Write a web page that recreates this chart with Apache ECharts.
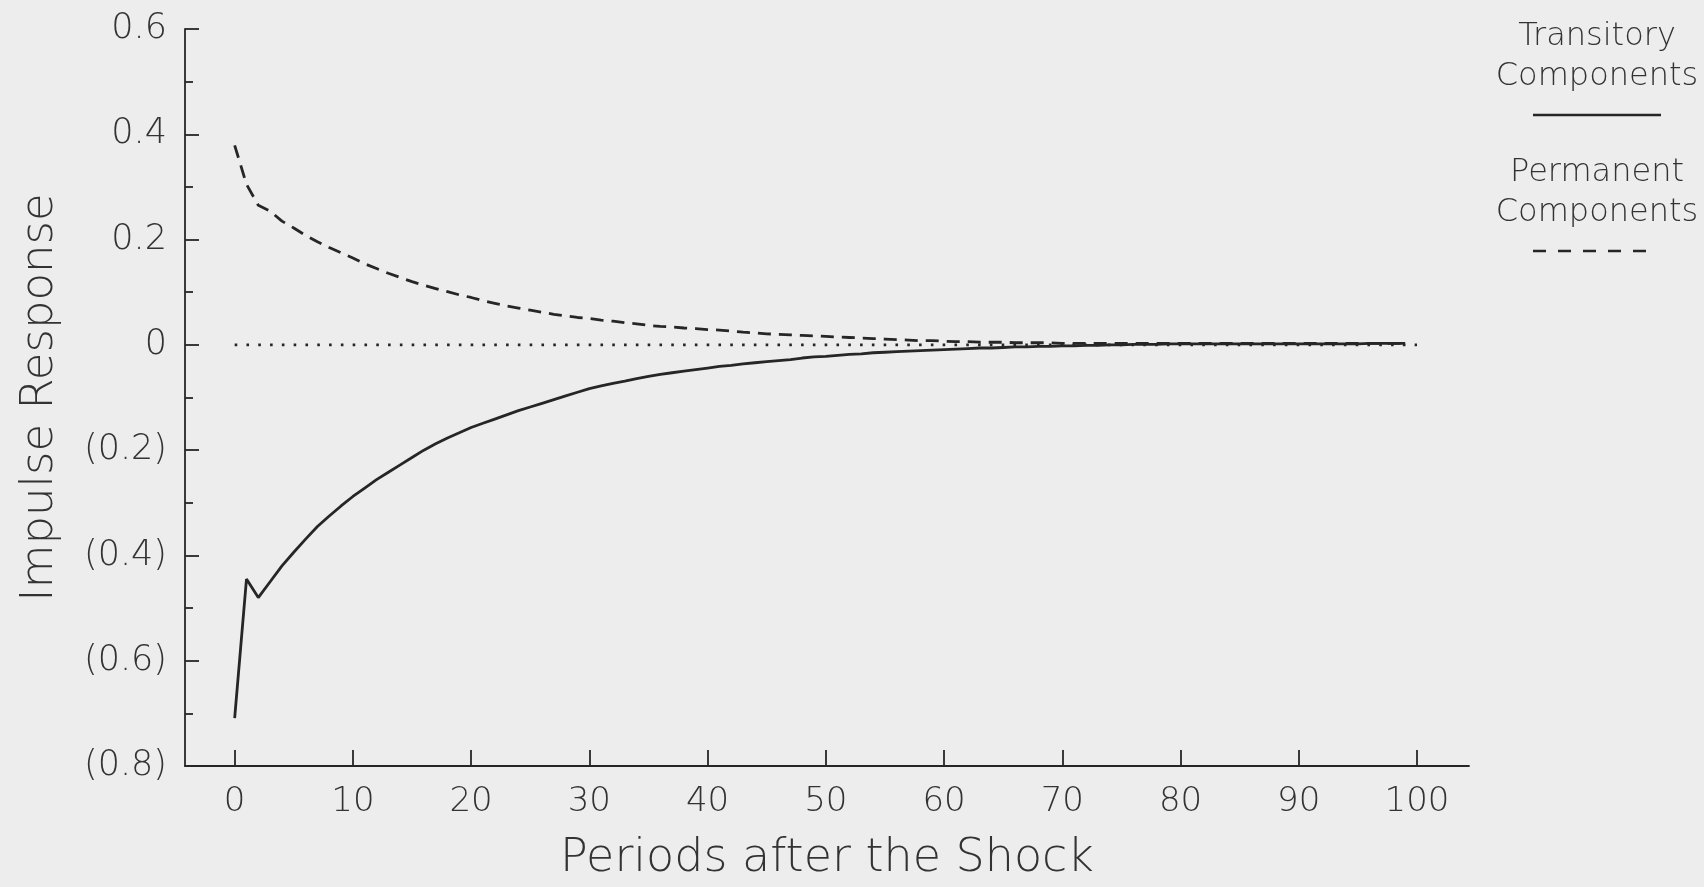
<!DOCTYPE html>
<html>
<head>
<meta charset="utf-8">
<title>Impulse Response</title>
<script src="https://cdn.jsdelivr.net/npm/echarts@6/dist/echarts.min.js"></script>
<style>
  html, body { margin: 0; padding: 0; background: #ededed; }
  #chart { width: 1704px; height: 887px; }
</style>
</head>
<body>
<div id="chart"></div>
<script>
// Periods after the shock (0 .. 99)
const periods = Array.from({ length: 100 }, (_, i) => i);

// Response of the transitory components (solid line)
const transitory = [
  -0.709, -0.445, -0.480, -0.450, -0.420, -0.394, -0.369, -0.345, -0.325, -0.306,
  -0.288, -0.272, -0.256, -0.242, -0.228, -0.214, -0.200, -0.188, -0.177, -0.167,
  -0.157, -0.149, -0.141, -0.133, -0.125, -0.118, -0.111, -0.104, -0.097, -0.090,
  -0.083, -0.078, -0.073, -0.069, -0.064, -0.060, -0.056, -0.053, -0.050, -0.047,
  -0.044, -0.041, -0.039, -0.036, -0.034, -0.032, -0.030, -0.028, -0.025, -0.023,
  -0.022, -0.020, -0.018, -0.017, -0.015, -0.014, -0.013, -0.012, -0.011, -0.010,
  -0.009, -0.008, -0.007, -0.006, -0.006, -0.005, -0.004, -0.004, -0.003, -0.003,
  -0.002, -0.002, -0.001, -0.001, 0.000, 0.000, 0.001, 0.001, 0.001, 0.002,
  0.002, 0.002, 0.002, 0.002, 0.002, 0.002, 0.002, 0.002, 0.002, 0.002,
  0.002, 0.002, 0.002, 0.002, 0.002, 0.002, 0.003, 0.003, 0.003, 0.003
];

// Response of the permanent components (dashed line)
const permanent = [
  0.379, 0.305, 0.265, 0.254, 0.235, 0.222, 0.208, 0.196, 0.185, 0.175,
  0.165, 0.154, 0.145, 0.136, 0.128, 0.120, 0.113, 0.107, 0.101, 0.095,
  0.090, 0.084, 0.079, 0.074, 0.070, 0.066, 0.062, 0.058, 0.055, 0.052,
  0.050, 0.047, 0.045, 0.042, 0.040, 0.037, 0.035, 0.034, 0.032, 0.031,
  0.029, 0.028, 0.026, 0.024, 0.023, 0.021, 0.020, 0.019, 0.018, 0.017,
  0.016, 0.015, 0.014, 0.013, 0.012, 0.011, 0.010, 0.009, 0.008, 0.008,
  0.007, 0.006, 0.006, 0.005, 0.005, 0.005, 0.004, 0.004, 0.004, 0.004,
  0.003, 0.003, 0.003, 0.003, 0.003, 0.003, 0.003, 0.003, 0.003, 0.003,
  0.003, 0.003, 0.003, 0.003, 0.003, 0.003, 0.003, 0.003, 0.003, 0.003,
  0.003, 0.003, 0.003, 0.003, 0.003, 0.003, 0.003, 0.003, 0.003, 0.003
];

// Zero reference line endpoints
const zeroLine = [[0, 0], [100, 0]];

// Tick values
const xTicks = [0, 10, 20, 30, 40, 50, 60, 70, 80, 90, 100];
const yTicks = [0.6, 0.4, 0.2, 0, -0.2, -0.4, -0.6, -0.8];

const legendTransitory = 'Transitory\nComponents';
const legendPermanent = 'Permanent\nComponents';

const FONT = "'DejaVu Sans', sans-serif";
const INK = '#262626';
const TEXT = '#333333';

// Negative values are written in accounting style, e.g. (0.2)
function fmtY(v) {
  const r = Math.round(v * 10) / 10;
  if (Math.abs(r) < 1e-9) return '0';
  return r < 0 ? '(' + Math.abs(r).toFixed(1) + ')' : r.toFixed(1);
}

const chart = echarts.init(document.getElementById('chart'), null, { renderer: 'canvas' });

chart.setOption({
  backgroundColor: '#ededed',
  animation: false,
  grid: { left: 185, right: 235, top: 29, bottom: 119, containLabel: false },
  xAxis: {
    type: 'value',
    min: -4.2,
    max: 104.4,
    name: 'Periods after the Shock',
    nameLocation: 'middle',
    nameGap: 70,
    nameTextStyle: { fontFamily: FONT, fontSize: 46, fontWeight: 200, color: TEXT },
    axisLine: { show: true, onZero: false, lineStyle: { color: INK, width: 1.8 } },
    axisTick: { show: true, inside: true, length: 16, customValues: xTicks, lineStyle: { color: INK, width: 1.8 } },
    axisLabel: { customValues: xTicks, margin: 19, fontFamily: FONT, fontSize: 34, fontWeight: 200, color: TEXT },
    splitLine: { show: false }
  },
  yAxis: {
    type: 'value',
    min: -0.8,
    max: 0.6,
    interval: 0.2,
    name: 'Impulse Response',
    nameLocation: 'middle',
    nameRotate: 90,
    nameGap: 122,
    nameTextStyle: { fontFamily: FONT, fontSize: 45, fontWeight: 200, color: TEXT },
    axisLine: { show: true, onZero: false, lineStyle: { color: INK, width: 1.8 } },
    axisTick: { show: true, inside: true, length: 14, lineStyle: { color: INK, width: 1.8 } },
    minorTick: { show: true, splitNumber: 2, length: 8, lineStyle: { color: INK, width: 1.8 } },
    axisLabel: {
      margin: 18, fontFamily: FONT, fontSize: 35, fontWeight: 200, color: TEXT,
      formatter: fmtY
    },
    splitLine: { show: false }
  },
  series: [
    {
      name: 'Zero',
      type: 'line',
      data: zeroLine,
      symbol: 'none',
      silent: true,
      lineStyle: { color: INK, width: 2.6, type: [2.6, 9.2] },
      z: 1
    },
    {
      name: 'Permanent Components',
      type: 'line',
      data: periods.map((p, i) => [p, permanent[i]]),
      symbol: 'none',
      lineStyle: { color: INK, width: 2.8, type: [13, 8] },
      z: 3
    },
    {
      name: 'Transitory Components',
      type: 'line',
      data: periods.map((p, i) => [p, transitory[i]]),
      symbol: 'none',
      lineStyle: { color: INK, width: 2.8 },
      z: 2
    }
  ],
  graphic: [
    {
      type: 'text', x: 1597, y: 17,
      style: { text: legendTransitory, align: 'center', verticalAlign: 'top', font: "200 32px 'DejaVu Sans', sans-serif", fill: TEXT, lineHeight: 40 }
    },
    {
      type: 'line', shape: { x1: 1533, y1: 115, x2: 1661, y2: 115 },
      style: { stroke: INK, lineWidth: 2.4 }
    },
    {
      type: 'text', x: 1597, y: 153,
      style: { text: legendPermanent, align: 'center', verticalAlign: 'top', font: "200 32px 'DejaVu Sans', sans-serif", fill: TEXT, lineHeight: 40 }
    },
    {
      type: 'line', shape: { x1: 1533, y1: 251, x2: 1648, y2: 251 },
      style: { stroke: INK, lineWidth: 2.4, lineDash: [13, 12] }
    }
  ]
});
</script>
</body>
</html>
